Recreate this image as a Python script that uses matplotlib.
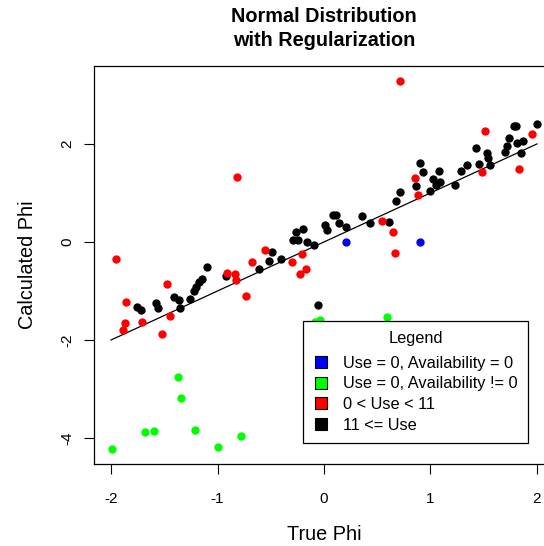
import matplotlib
matplotlib.use("Agg")
import matplotlib.pyplot as plt
from matplotlib.lines import Line2D

plt.rcParams['font.family'] = ['Liberation Sans', 'DejaVu Sans']

# ---- data ----
black_x = [-1.76, -1.72, -1.58, -1.56, -1.41, -1.36, -1.35, -1.26, -1.22, -1.20, -1.17, -1.15, -1.10,
           -0.92, -0.61, -0.52, -0.49, -0.40, -0.29, -0.24, -0.26, -0.20, -0.16, -0.09, -0.06,
           0.01, 0.03, 0.08, 0.11, 0.14, 0.21, 0.36, 0.43, 0.61, 0.68, 0.71, 0.86, 0.90, 0.93,
           1.00, 1.02, 1.05, 1.08, 1.09, 1.23, 1.29, 1.34, 1.43, 1.46, 1.53, 1.54, 1.56,
           1.70, 1.72, 1.74, 1.78, 1.80, 1.81, 1.87, 1.85, 2.00]
black_y = [-1.32, -1.39, -1.24, -1.35, -1.13, -1.18, -1.34, -1.17, -1.01, -0.91, -0.82, -0.75, -0.52,
           -0.70, -0.56, -0.39, -0.20, -0.35, 0.05, 0.03, 0.21, 0.27, -0.01, -0.06, -1.28,
           0.35, 0.24, 0.55, 0.55, 0.38, 0.30, 0.52, 0.39, 0.40, 0.84, 1.01, 1.14, 1.61, 1.43,
           1.04, 1.29, 1.16, 1.45, 1.23, 1.16, 1.45, 1.56, 1.91, 1.59, 1.82, 1.71, 1.57,
           1.84, 1.96, 2.12, 2.37, 2.37, 2.01, 2.05, 1.82, 2.40]

red_x = [-1.95, -1.86, -1.87, -1.89, -1.71, -1.52, -1.47, -1.45, -0.91, -0.84, -0.83, -0.73, -0.82,
         -0.68, -0.55, -0.30, -0.21, -0.17, -0.23, 0.54, 0.65, 0.67, 0.71, 0.85, 0.88,
         1.48, 1.51, 1.83, 1.95]
red_y = [-0.35, -1.23, -1.65, -1.80, -1.64, -1.88, -0.86, -1.51, -0.64, -0.66, -0.78, -1.10, 1.32,
         -0.41, -0.16, -0.40, -0.24, -0.56, -0.66, 0.42, 0.21, -0.22, 3.29, 1.30, 0.96,
         1.42, 2.27, 1.49, 2.20]

green_x = [-1.37, -1.34, -1.68, -1.60, -1.21, -1.99, -1.00, -0.78, -0.08, -0.04, 0.59]
green_y = [-2.75, -3.18, -3.88, -3.86, -3.84, -4.23, -4.19, -3.95, -1.64, -1.59, -1.54]

blue_x = [0.21, 0.90]
blue_y = [-0.01, -0.01]

ref_x = [-2, 2]
ref_y = [-2, 2]

x_ticks = [-2, -1, 0, 1, 2]
y_ticks = [-4, -2, 0, 2]

legend_labels = ["Use = 0, Availability = 0", "Use = 0, Availability != 0",
                 "0 < Use < 11", "11 <= Use"]
legend_colors = ["#0000FF", "#00FF00", "#FF0000", "#000000"]

# ---- figure ----
W, H = 544, 546
fig = plt.figure(figsize=(W / 100, H / 100), dpi=100)
left, right, top, bottom = 94, 554, 66, 464
ax = fig.add_axes([left / W, 1 - bottom / H, (right - left) / W, (bottom - top) / H])

ms = 36
ax.scatter(black_x, black_y, s=ms, c="#000000", linewidths=0, zorder=3)
ax.scatter(red_x, red_y, s=ms, c="#FF0000", linewidths=0, zorder=3)
ax.scatter(green_x, green_y, s=ms, c="#00FF00", linewidths=0, zorder=3)
ax.scatter(blue_x, blue_y, s=ms, c="#0000FF", linewidths=0, zorder=3)
ax.plot(ref_x, ref_y, color="black", lw=0.9, zorder=2)

ax.set_xlim(-2.16, 2.16)
ax.set_ylim(-4.53, 3.59)
ax.set_xticks(x_ticks)
ax.set_yticks(y_ticks)
ax.set_xticklabels([str(t) for t in x_ticks], fontsize=11)
ax.set_yticklabels([str(t) for t in y_ticks], fontsize=11, rotation=90, va="center")
ax.tick_params(axis="x", direction="out", length=7, width=0.8, pad=13, colors="black")
ax.tick_params(axis="y", direction="out", length=7, width=0.8, pad=7, colors="black")
for sp in ax.spines.values():
    sp.set_linewidth(0.9)
    sp.set_color("black")

ax.set_xlabel("True Phi", fontsize=14.3, labelpad=14)
ax.set_ylabel("Calculated Phi", fontsize=14.3, labelpad=17)
fig.text(324 / W, 1 - 17 / H, "Normal Distribution", fontsize=14.3, fontweight="bold",
         ha="center", va="center")
fig.text(324 / W, 1 - 41 / H, "with Regularization", fontsize=14.3, fontweight="bold",
         ha="center", va="center")

handles = [Line2D([], [], marker="s", linestyle="none", markersize=8.5,
                  markerfacecolor=c, markeredgecolor="black", markeredgewidth=0.8)
           for c in legend_colors]
leg = ax.legend(handles, legend_labels, title="Legend", loc="upper left",
                bbox_to_anchor=(303 / W, 1 - 321 / H), bbox_transform=fig.transFigure,
                fontsize=11.8, title_fontsize=11.8, frameon=True, fancybox=False,
                edgecolor="black", framealpha=1, borderpad=0.62, labelspacing=0.34,
                handlelength=0.9, handletextpad=0.95, borderaxespad=0)
leg.get_frame().set_linewidth(0.9)
leg._legend_box.sep = 7

fig.savefig("out.png", dpi=100)
